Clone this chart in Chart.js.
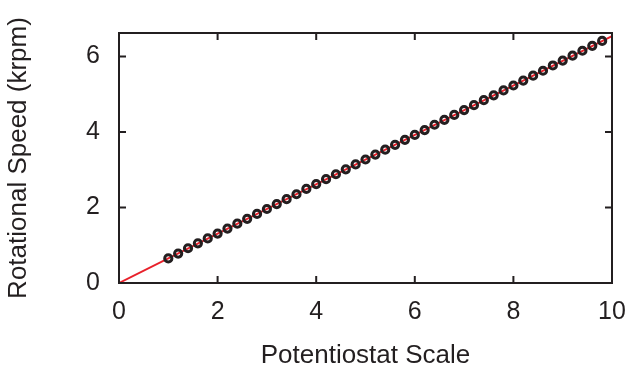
<!DOCTYPE html>
<html>
<head>
<meta charset="utf-8">
<script src="https://cdn.jsdelivr.net/npm/chart.js@4"></script>
<style>
   html, body { margin: 0; padding: 0; background: #fff; }
   #wrap { width: 629px; height: 369px; }
</style>
</head>
<body>
<div id="wrap"><canvas id="chart" width="629" height="369"></canvas></div>
<script>
// Measured points (potentiostat scale vs rotational speed)
const scaleValues = [1.0, 1.2, 1.4, 1.6, 1.8, 2.0, 2.2, 2.4, 2.6, 2.8,
   3.0, 3.2, 3.4, 3.6, 3.8, 4.0, 4.2, 4.4, 4.6, 4.8,
   5.0, 5.2, 5.4, 5.6, 5.8, 6.0, 6.2, 6.4, 6.6, 6.8,
   7.0, 7.2, 7.4, 7.6, 7.8, 8.0, 8.2, 8.4, 8.6, 8.8,
   9.0, 9.2, 9.4, 9.6, 9.8];
const speedValues = [0.65, 0.78, 0.92, 1.05, 1.18, 1.31, 1.44, 1.57, 1.70, 1.83,
   1.96, 2.09, 2.22, 2.35, 2.49, 2.62, 2.75, 2.88, 3.01, 3.14,
   3.27, 3.40, 3.53, 3.66, 3.79, 3.92, 4.05, 4.19, 4.32, 4.45,
   4.58, 4.71, 4.84, 4.97, 5.10, 5.23, 5.36, 5.49, 5.62, 5.76,
   5.89, 6.02, 6.15, 6.28, 6.41];
// Fitted line end points
const fitX = [0, 10];
const fitY = [0, 6.54];
const xTicks = [0, 2, 4, 6, 8, 10];
const yTicks = [0, 2, 4, 6];

const ink = '#231f20';
const fontFamily = '"Liberation Sans", Arial, sans-serif';

// Frame with inward ticks on all four sides
const framePlugin = {
   id: 'frame',
   afterDatasetsDraw(chart) {
      const { ctx, chartArea: a, scales } = chart;
      const len = 7;
      ctx.save();
      ctx.strokeStyle = ink;
      ctx.lineWidth = 2;
      ctx.strokeRect(a.left, a.top, a.right - a.left, a.bottom - a.top);
      ctx.beginPath();
      xTicks.forEach(v => {
         const px = scales.x.getPixelForValue(v);
         ctx.moveTo(px, a.bottom); ctx.lineTo(px, a.bottom - len);
         ctx.moveTo(px, a.top); ctx.lineTo(px, a.top + len);
      });
      yTicks.forEach(v => {
         const py = scales.y.getPixelForValue(v);
         ctx.moveTo(a.left, py); ctx.lineTo(a.left + len, py);
         ctx.moveTo(a.right, py); ctx.lineTo(a.right - len, py);
      });
      ctx.stroke();
      ctx.restore();
   }
};

new Chart(document.getElementById('chart').getContext('2d'), {
   type: 'scatter',
   data: {
      datasets: [{
         label: 'Data',
         data: scaleValues.map((x, i) => ({ x: x, y: speedValues[i] })),
         showLine: false,
         pointStyle: 'circle',
         pointRadius: 3.6,
         pointBorderWidth: 3,
         pointBorderColor: ink,
         pointBackgroundColor: 'rgba(0,0,0,0)',
         order: 1
      }, {
         label: 'Fit',
         data: fitX.map((x, i) => ({ x: x, y: fitY[i] })),
         showLine: true,
         borderColor: '#e8202a',
         borderWidth: 2,
         pointRadius: 0,
         order: 2
      }]
   },
   options: {
      responsive: false,
      animation: false,
      layout: { padding: { top: 33, right: 17, left: 0, bottom: 0 } },
      plugins: {
         legend: { display: false },
         tooltip: { enabled: false }
      },
      scales: {
         x: {
            type: 'linear',
            min: 0,
            max: 10,
            afterBuildTicks: (s) => { s.ticks = xTicks.map(v => ({ value: v })); },
            afterFit: (s) => { s.height = 86; s.paddingLeft = 0; s.paddingRight = 0; },
            grid: { display: false },
            border: { display: false },
            ticks: {
               color: ink,
               padding: 6,
               font: { family: fontFamily, size: 25 }
            },
            title: {
               display: true,
               text: 'Potentiostat Scale',
               color: ink,
               padding: { top: 0, bottom: 0 },
               font: { family: fontFamily, size: 26, lineHeight: 1 }
            }
         },
         y: {
            type: 'linear',
            min: 0,
            max: 6.62,
            afterBuildTicks: (s) => { s.ticks = yTicks.map(v => ({ value: v })); },
            afterFit: (s) => { s.width = 119; s.paddingTop = 0; s.paddingBottom = 0; },
            grid: { display: false },
            border: { display: false },
            ticks: {
               color: ink,
               padding: 11,
               font: { family: fontFamily, size: 25 }
            },
            title: {
               display: true,
               text: 'Rotational Speed (krpm)',
               color: ink,
               padding: { top: 6, bottom: 0 },
               font: { family: fontFamily, size: 26, lineHeight: 1 }
            }
         }
      }
   },
   plugins: [framePlugin]
});
</script>
</body>
</html>
